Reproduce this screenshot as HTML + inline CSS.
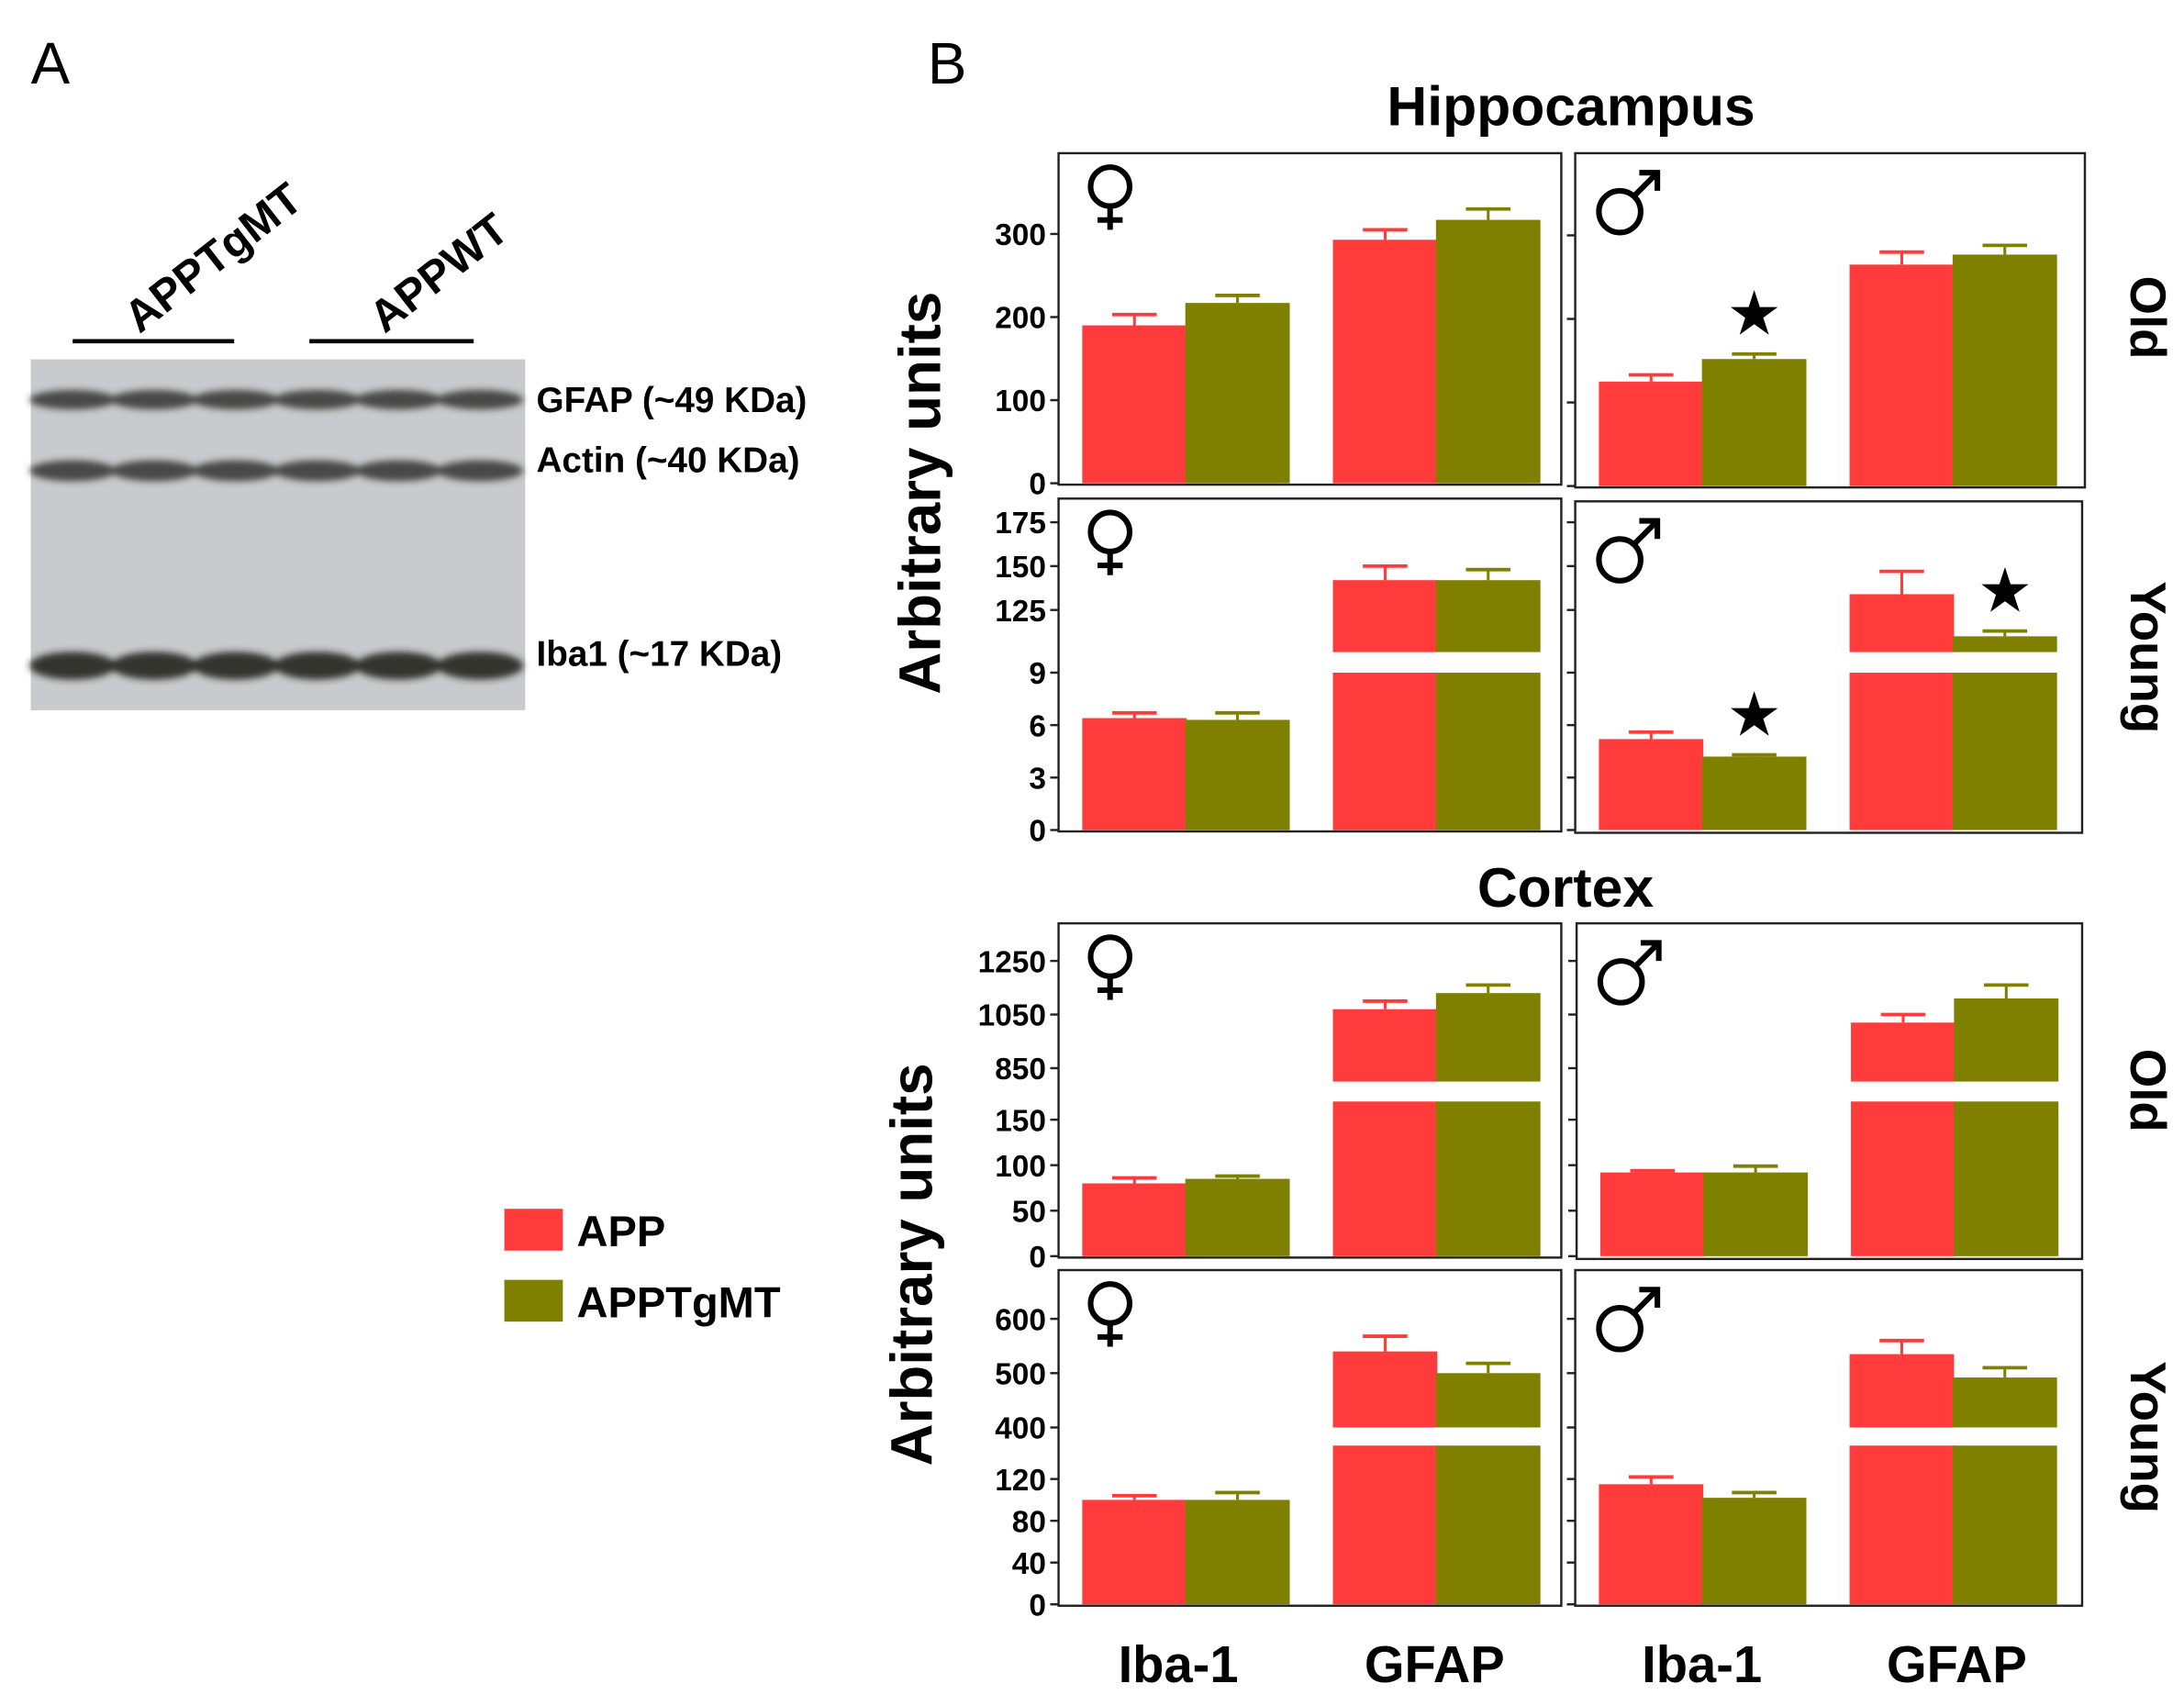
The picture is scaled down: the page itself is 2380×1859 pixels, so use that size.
<!DOCTYPE html>
<html><head><meta charset="utf-8"><style>
html,body{margin:0;padding:0;background:#fff;}
svg{display:block;font-family:"Liberation Sans",Arial,sans-serif;}
</style></head><body>
<svg id="fig" width="2380" height="1859" viewBox="0 0 1568 1225" xmlns="http://www.w3.org/2000/svg">
<defs><filter id="blur" x="-20%" y="-50%" width="140%" height="200%"><feGaussianBlur stdDeviation="2.5"/></filter></defs>
<rect x="0" y="0" width="1568" height="1225" fill="#fff"/>
<g>
<text x="22" y="60" font-size="42">A</text>
<line x1="52" y1="245" x2="168" y2="245" stroke="#000" stroke-width="3"/>
<line x1="222" y1="245" x2="340" y2="245" stroke="#000" stroke-width="3"/>
<text transform="translate(100,240) rotate(-38)" font-size="32" font-weight="bold">APPTgMT</text>
<text transform="translate(276,240) rotate(-38)" font-size="32" font-weight="bold">APPWT</text>
<g id="blot">
<rect x="22" y="258" width="355" height="252" fill="#c9cacd"/>
</g>
<text x="385" y="296" font-size="25.5" font-weight="bold">GFAP (~49 KDa)</text>
<text x="385" y="339" font-size="25.5" font-weight="bold">Actin (~40 KDa)</text>
<text x="385" y="478" font-size="25.5" font-weight="bold">Iba1 (~17 KDa)</text>
</g>
<g>
<rect x="362" y="868" width="42" height="30" fill="#ff3b3b"/>
<text x="414" y="895" font-size="31" font-weight="bold">APP</text>
<rect x="362" y="919" width="42" height="30" fill="#808000"/>
<text x="414" y="946" font-size="31" font-weight="bold">APPTgMT</text>
</g>
<text x="666" y="60" font-size="42">B</text>
<text x="1128" y="90" font-size="40" font-weight="bold" text-anchor="middle">Hippocampus</text>
<text x="1124" y="651" font-size="40" font-weight="bold" text-anchor="middle">Cortex</text>
<text transform="translate(675,354) rotate(-90)" font-size="42" font-weight="bold" text-anchor="middle">Arbitrary units</text>
<text transform="translate(669,908) rotate(-90)" font-size="42" font-weight="bold" text-anchor="middle">Arbitrary units</text>
<text transform="translate(1530,228) rotate(90)" font-size="36" font-weight="bold" text-anchor="middle">Old</text>
<text transform="translate(1530,472) rotate(90)" font-size="36" font-weight="bold" text-anchor="middle">Young</text>
<text transform="translate(1530,783) rotate(90)" font-size="36" font-weight="bold" text-anchor="middle">Old</text>
<text transform="translate(1530,1032) rotate(90)" font-size="36" font-weight="bold" text-anchor="middle">Young</text>
<text x="846" y="1208" font-size="37" font-weight="bold" text-anchor="middle">Iba-1</text>
<text x="1030" y="1208" font-size="37" font-weight="bold" text-anchor="middle">GFAP</text>
<text x="1222" y="1208" font-size="37" font-weight="bold" text-anchor="middle">Iba-1</text>
<text x="1405" y="1208" font-size="37" font-weight="bold" text-anchor="middle">GFAP</text>
<g id="charts"></g>
</svg>
<script>
// Data: values per panel in order [Iba1-APP, Iba1-APPTgMT, GFAP-APP, GFAP-APPTgMT]
const hipOldF = [190, 217, 293, 317];
const hipOldFErr = [203, 226, 305, 330];
const hipOldM = [125, 152, 265, 277];
const hipOldMErr = [133, 158, 280, 288];
const hipYoungF = [6.4, 6.3, 142, 142];
const hipYoungFErr = [6.7, 6.7, 150, 148];
const hipYoungM = [5.2, 4.2, 134, 110];
const hipYoungMErr = [5.6, 4.3, 147, 113];
const ctxOldF = [80, 85, 1070, 1130];
const ctxOldFErr = [86, 88, 1100, 1160];
const ctxOldM = [92, 92, 1020, 1110];
const ctxOldMErr = [94, 99, 1050, 1160];
const ctxYoungF = [100, 100, 540, 500];
const ctxYoungFErr = [104, 107, 568, 518];
const ctxYoungM = [115, 102, 535, 492];
const ctxYoungMErr = [122, 107, 560, 510];
const hipOldTicks = [0, 100, 200, 300];
const hipYoungLowTicks = [0, 3, 6, 9];
const hipYoungHighTicks = [125, 150, 175];
const ctxOldLowTicks = [0, 50, 100, 150];
const ctxOldHighTicks = [850, 1050, 1250];
const ctxYoungLowTicks = [0, 40, 80, 120];
const ctxYoungHighTicks = [400, 500, 600];

const NS = 'http://www.w3.org/2000/svg';
const root = document.getElementById('charts');
const RED = '#ff3b3b', OLIVE = '#808000';
function mk(tag, attrs, parent) {
  const e = document.createElementNS(NS, tag);
  for (const k in attrs) e.setAttribute(k, attrs[k]);
  (parent || root).appendChild(e);
  return e;
}
function seg(lo, hi, a, pa, b, pb, ticks) {
  return {lo, hi, ticks, s: v => pa + (v - a) * (pb - pa) / (b - a)};
}
function sexSymbol(g, name, x0, yTop, female) {
  const sg = mk('g', {fill: 'none', stroke: '#000', 'stroke-width': 4}, g);
  
  
  if (female) {
    const cx = x0 + 37, cy = yTop + 24;
    mk('circle', {cx: cx, cy: cy, r: 14}, sg);
    mk('line', {x1: cx, y1: cy + 14, x2: cx, y2: cy + 31}, sg);
    mk('line', {x1: cx - 9, y1: cy + 24, x2: cx + 9, y2: cy + 24}, sg);
  } else {
    const cx = x0 + 32, cy = yTop + 42;
    mk('circle', {cx: cx, cy: cy, r: 15}, sg);
    mk('line', {x1: cx + 10, y1: cy - 11, x2: cx + 27, y2: cy - 28}, sg);
    mk('polyline', {points: (cx + 14) + ',' + (cy - 28) + ' ' + (cx + 27) + ',' + (cy - 28) + ' ' + (cx + 27) + ',' + (cy - 15)}, sg);
  }
}
function panel(name, x0, x1, yTop, yBot, segs, vals, errs, showLabels, female, stars) {
  const g = mk('g', {});
  
  
  const box = mk('rect', {x: x0, y: yTop, width: x1 - x0, height: yBot - yTop, fill: 'none', stroke: '#222', 'stroke-width': 1.6}, g);
  
  
  const barX = [x0 + 17, x0 + 91, x0 + 197, x0 + 271];
  const bw = 75;
  vals.forEach((v, i) => {
    const col = i % 2 === 0 ? RED : OLIVE;
    segs.forEach(sg => {
      if (v <= sg.lo) return;
      const top = sg.s(Math.min(v, sg.hi)), bot = sg.s(sg.lo);
      const r = mk('rect', {x: barX[i], y: top, width: bw, height: bot - top, fill: col}, g);
      
      
      if (v <= sg.hi) {
        const ey = sg.s(errs[i]), cx = barX[i] + bw / 2;
        const e1 = mk('line', {x1: cx, y1: top, x2: cx, y2: ey, stroke: col, 'stroke-width': 2}, g);
        
        
        const e2 = mk('line', {x1: cx - 16, y1: ey, x2: cx + 16, y2: ey, stroke: col, 'stroke-width': 2.5}, g);
        
        
      }
    });
  });
  segs.forEach(sg => {
    sg.ticks.forEach(t => {
      const y = sg.s(t);
      const tk = mk('line', {x1: x0 - 6, y1: y, x2: x0, y2: y, stroke: '#222', 'stroke-width': 1.6}, g);
      
      
      if (showLabels) {
        const tl = mk('text', {x: x0 - 9, y: y + 8, 'font-size': 22, 'font-weight': 'bold', 'text-anchor': 'end'}, g);
        tl.textContent = String(t);
        
        
      }
    });
  });
  sexSymbol(g, name, x0, yTop, female);
  stars.forEach(i => {
    let sg = segs.find(s => vals[i] > s.lo && vals[i] <= s.hi);
    const y = sg.s(errs[i]) - 14;
    const st = mk('text', {x: barX[i] + bw / 2, y: y, 'font-size': 44, 'text-anchor': 'middle'}, g);
    st.textContent = '\u2605';
    
    
  });
}
const hOld = [seg(0, 400, 0, 347, 300, 168, hipOldTicks)];
panel('hippocampus-old-female', 760, 1121, 110, 348, hOld, hipOldF, hipOldFErr, true, true, []);
panel('hippocampus-old-male', 1131, 1497, 110, 350, [seg(0, 400, 0, 349, 300, 169, hipOldTicks)], hipOldM, hipOldMErr, false, false, [1]);
const hY = () => [seg(0, 9, 0, 596, 9, 483, hipYoungLowTicks), seg(101, 300, 125, 438, 175, 375, hipYoungHighTicks)];
panel('hippocampus-young-female', 760, 1121, 358, 597, hY(), hipYoungF, hipYoungFErr, true, true, []);
panel('hippocampus-young-male', 1131, 1495, 360, 598, hY(), hipYoungM, hipYoungMErr, false, false, [1, 3]);
const cO = () => [seg(0, 170, 0, 902, 150, 804, ctxOldLowTicks), seg(800, 1400, 850, 767, 1250, 690, ctxOldHighTicks)];
panel('cortex-old-female', 760, 1121, 663, 903, cO(), ctxOldF, ctxOldFErr, true, true, []);
panel('cortex-old-male', 1132, 1495, 663, 904, cO(), ctxOldM, ctxOldMErr, false, false, []);
const cY = () => [seg(0, 152, 0, 1152, 120, 1062, ctxYoungLowTicks), seg(400, 700, 400, 1025, 600, 947, ctxYoungHighTicks)];
panel('cortex-young-female', 760, 1121, 912, 1153, cY(), ctxYoungF, ctxYoungFErr, true, true, []);
panel('cortex-young-male', 1131, 1495, 912, 1153, cY(), ctxYoungM, ctxYoungMErr, false, false, []);

// Western blot bands
const blot = document.getElementById('blot');
const bandY = [287, 338, 478];
const bandH = [14, 15, 20];
const bg = mk('g', {filter: 'url(#blur)'}, blot);


for (let l = 0; l < 6; l++) {
  const cx = 22 + 30 + l * 58.5;
  bandY.forEach((y, k) => {
    const e = mk('ellipse', {cx: cx, cy: y, rx: 31, ry: bandH[k] / 2, fill: k === 2 ? '#25251f' : '#3a3a36', opacity: 0.9}, bg);
    
    
  });
}
</script>
</body></html>
